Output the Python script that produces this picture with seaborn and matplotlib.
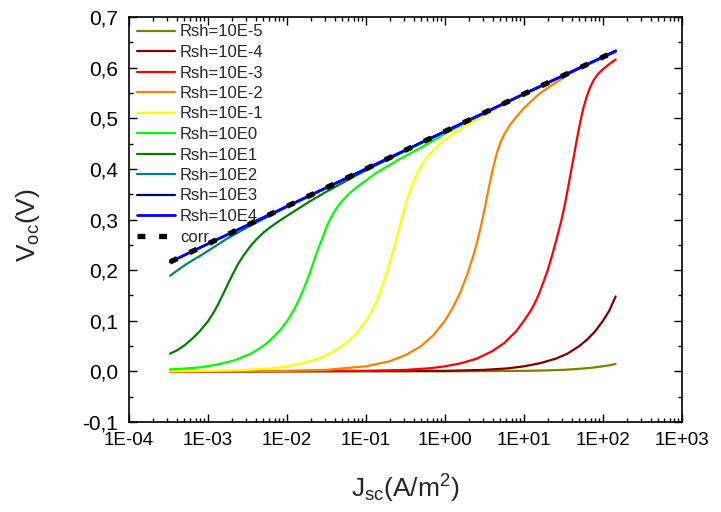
import matplotlib
matplotlib.use("Agg")
import matplotlib.pyplot as plt
from matplotlib.ticker import FixedLocator, FuncFormatter, LogLocator, NullFormatter, MultipleLocator
import numpy as np
import pandas as pd
import seaborn as sns

# ---- data: open-circuit voltage vs short-circuit current density ----
labels = ["Rsh=10E-5", "Rsh=10E-4", "Rsh=10E-3", "Rsh=10E-2", "Rsh=10E-1",
          "Rsh=10E0", "Rsh=10E1", "Rsh=10E2", "Rsh=10E3", "Rsh=10E4"]
colors = ["#808000", "#800000", "#FF0000", "#FF8000", "#FFFF00",
          "#00FF00", "#008000", "#008080", "#000080", "#0000FF"]

# x values are log10(Jsc / (A/m^2)), y values are Voc in V
logj_rsh_m5 = [-3.48, 0.0, 1.0, 1.3, 1.5, 1.7, 1.85, 2.0, 2.1, 2.16]
voc_rsh_m5 = [0.000, 0.0001, 0.001, 0.002, 0.003, 0.005, 0.007, 0.010, 0.0126, 0.0148]

logj_rsh_m4 = [-3.48, 0.0, 0.5, 0.8, 1.0, 1.2, 1.4, 1.55, 1.7, 1.8, 1.9, 2.0, 2.08, 2.16]
voc_rsh_m4 = [0.000, 0.001, 0.003, 0.006, 0.010, 0.016, 0.025, 0.035, 0.050, 0.063, 0.079, 0.100, 0.120, 0.148]

logj_rsh_m3 = [-3.48, -1.0, -0.5, -0.2, 0.0, 0.2, 0.4, 0.6, 0.75, 0.9, 1.0, 1.09, 1.15, 1.2, 1.25,
               1.30, 1.35, 1.41, 1.47, 1.51, 1.54, 1.58, 1.625, 1.67, 1.71, 1.75, 1.79, 1.835,
               1.88, 1.94, 2.0, 2.08, 2.16]
voc_rsh_m3 = [0.000, 0.001, 0.003, 0.006, 0.010, 0.016, 0.025, 0.040, 0.056, 0.079, 0.100, 0.121, 0.139,
              0.157, 0.178, 0.200, 0.226, 0.260, 0.296, 0.324, 0.348, 0.382, 0.420, 0.459, 0.491,
              0.519, 0.541, 0.560, 0.575, 0.588, 0.597, 0.607, 0.616]

logj_rsh_m2 = [-3.48, -2.0, -1.5, -1.0, -0.7, -0.5, -0.3, -0.15, 0.0, 0.1, 0.19, 0.274, 0.35, 0.40,
               0.45, 0.50, 0.55, 0.60, 0.654, 0.70, 0.75, 0.82, 0.9, 1.0, 1.1, 1.2, 1.35, 1.54,
               1.7, 1.85, 2.0, 2.16]
voc_rsh_m2 = [0.000, 0.001, 0.003, 0.010, 0.020, 0.032, 0.050, 0.071, 0.100, 0.126, 0.155, 0.188, 0.224,
              0.251, 0.283, 0.320, 0.359, 0.396, 0.430, 0.451, 0.468, 0.486, 0.502, 0.520, 0.535,
              0.549, 0.565, 0.584, 0.598, 0.609, 0.620, 0.630]

logj_rsh_m1 = [-3.48, -3.0, -2.5, -2.2, -2.0, -1.8, -1.6, -1.42, -1.25, -1.12, -1.03, -0.95, -0.88,
               -0.823, -0.76, -0.70, -0.65, -0.61, -0.57, -0.528, -0.49, -0.443, -0.40, -0.36,
               -0.316, -0.27, -0.23, -0.148, -0.06, 0.063, 0.2, 0.35, 0.57, 0.8, 1.0, 2.0, 2.16]
voc_rsh_m1 = [0.0003, 0.001, 0.003, 0.006, 0.010, 0.016, 0.025, 0.038, 0.056, 0.075, 0.093, 0.112, 0.133,
              0.155, 0.184, 0.214, 0.241, 0.264, 0.288, 0.312, 0.334, 0.356, 0.374, 0.389,
              0.402, 0.413, 0.422, 0.437, 0.450, 0.465, 0.479, 0.493, 0.513, 0.531, 0.548, 0.621, 0.633]

logj_rsh_0 = [-3.48, -3.3, -3.10, -2.9, -2.68, -2.47, -2.35, -2.26, -2.17, -2.09, -2.0, -1.96, -1.90,
              -1.835, -1.77, -1.71, -1.66, -1.60, -1.54, -1.50, -1.456, -1.41, -1.37, -1.3, -1.2,
              -1.1, -0.99, -0.87, -0.74, -0.6, -0.4, -0.2, 0.0, 0.3, 1.0, 2.0, 2.16]
voc_rsh_0 = [0.004, 0.0055, 0.008, 0.013, 0.021, 0.034, 0.045, 0.055, 0.068, 0.081, 0.099, 0.109, 0.125,
             0.146, 0.170, 0.195, 0.218, 0.244, 0.268, 0.285, 0.300, 0.313, 0.323, 0.337, 0.353,
             0.366, 0.378, 0.392, 0.404, 0.417, 0.434, 0.451, 0.470, 0.494, 0.548, 0.621, 0.633]

logj_rsh_1 = [-3.48, -3.40, -3.30, -3.19, -3.10, -3.00, -2.93, -2.87, -2.81, -2.75, -2.68, -2.62,
              -2.55, -2.47, -2.385, -2.3, -2.2, -2.1, -2.0, -1.85, -1.71, -1.5, -1.3, -1.1, -0.9,
              -0.6, -0.3, 0.0, 1.0, 2.0, 2.16]
voc_rsh_1 = [0.035, 0.041, 0.051, 0.066, 0.080, 0.099, 0.116, 0.133, 0.152, 0.172, 0.194, 0.212,
             0.229, 0.246, 0.261, 0.274, 0.286, 0.297, 0.307, 0.322, 0.336, 0.355, 0.372, 0.389, 0.405,
             0.428, 0.452, 0.473, 0.548, 0.621, 0.633]

logj_rsh_2 = [-3.48, -3.4, -3.3, -3.19, -3.1, -3.0, -2.88, -2.76, -2.6, -2.45, -2.3, -2.0, -1.0,
              0.0, 1.0, 2.0, 2.16]
voc_rsh_2 = [0.189, 0.198, 0.209, 0.220, 0.228, 0.238, 0.250, 0.262, 0.276, 0.289, 0.301, 0.325, 0.400,
             0.474, 0.548, 0.621, 0.633]

logj_ideal = [-3.48, -3.0, -2.0, -1.0, 0.0, 1.0, 2.0, 2.16]
voc_rsh_3 = [0.216, 0.252, 0.326, 0.400, 0.474, 0.548, 0.621, 0.633]
voc_rsh_4 = [0.216, 0.252, 0.326, 0.400, 0.474, 0.548, 0.621, 0.633]
voc_corr = [0.216, 0.252, 0.326, 0.400, 0.474, 0.548, 0.621, 0.633]

series = [
    (logj_rsh_m5, voc_rsh_m5), (logj_rsh_m4, voc_rsh_m4), (logj_rsh_m3, voc_rsh_m3),
    (logj_rsh_m2, voc_rsh_m2), (logj_rsh_m1, voc_rsh_m1), (logj_rsh_0, voc_rsh_0),
    (logj_rsh_1, voc_rsh_1), (logj_rsh_2, voc_rsh_2), (logj_ideal, voc_rsh_3),
    (logj_ideal, voc_rsh_4),
]

# ---- style ----
sns.set_style("ticks")
plt.rcParams["font.family"] = ["Liberation Sans", "DejaVu Sans"]
plt.rcParams["mathtext.fontset"] = "custom"
plt.rcParams["mathtext.rm"] = "Liberation Sans"
plt.rcParams["mathtext.it"] = "Liberation Sans"
plt.rcParams["mathtext.default"] = "regular"
plt.rcParams["axes.unicode_minus"] = False

fig = plt.figure(figsize=(7.21, 5.12), dpi=100)
ax = fig.add_axes([129 / 721, 1 - 422 / 512, 553 / 721, 405 / 512])

for (lj, v), lab, col in zip(series, labels, colors):
    df = pd.DataFrame({"Jsc": np.power(10.0, lj), "Voc": v})
    lw = 2.0 if lab == "Rsh=10E4" else 1.6
    sns.lineplot(data=df, x="Jsc", y="Voc", color=col, linewidth=lw, label=lab,
                 ax=ax, sort=False, estimator=None)

df_corr = pd.DataFrame({"Jsc": np.power(10.0, logj_ideal), "Voc": voc_corr})
sns.lineplot(data=df_corr, x="Jsc", y="Voc", color="black", linewidth=3.8, label="corr",
             ax=ax, sort=False, estimator=None)
ax.lines[-1].set_dashes((1.5, 2.6))

# ---- axes ----
ax.set_xscale("log")
ax.set_xlim(1e-4, 1e3)
ax.set_ylim(-0.1, 0.7)
ax.xaxis.set_major_locator(FixedLocator([10.0 ** e for e in range(-4, 4)]))
ax.xaxis.set_minor_locator(LogLocator(base=10, subs=np.arange(2, 10)))
ax.xaxis.set_minor_formatter(NullFormatter())
ax.xaxis.set_major_formatter(FuncFormatter(lambda x, p: "1E{:+03d}".format(int(round(np.log10(x))))))
ax.yaxis.set_major_locator(MultipleLocator(0.1))
ax.yaxis.set_minor_locator(MultipleLocator(0.05))
ax.yaxis.set_major_formatter(FuncFormatter(lambda y, p: "{:.1f}".format(y).replace(".", ",").replace("-0,0", "0,0")))

for side in ["top", "right", "bottom", "left"]:
    ax.spines[side].set_visible(True)
    ax.spines[side].set_linewidth(1.2)
    ax.spines[side].set_color("black")
ax.tick_params(which="both", direction="in", top=True, right=True, colors="black", width=1.0)
ax.tick_params(which="major", length=5.5)
ax.tick_params(which="minor", length=2.8)
ax.tick_params(axis="x", which="major", labelsize=13.5, pad=7)
ax.tick_params(axis="y", which="major", labelsize=15, pad=8)

ax.set_xlabel("J$_{sc}$(A/m$^{2}$)", fontsize=19)
ax.set_ylabel("V$_{oc}$(V)", fontsize=19)
ax.xaxis.set_label_coords(0.5, -0.125)
ax.yaxis.set_label_coords(-0.158, 0.485)

leg = ax.legend(loc="upper left", frameon=False, fontsize=12, handlelength=2.3,
                handletextpad=0.3, labelspacing=0.33, borderaxespad=0.2, borderpad=0.25)

fig.savefig("out.png", dpi=100)
